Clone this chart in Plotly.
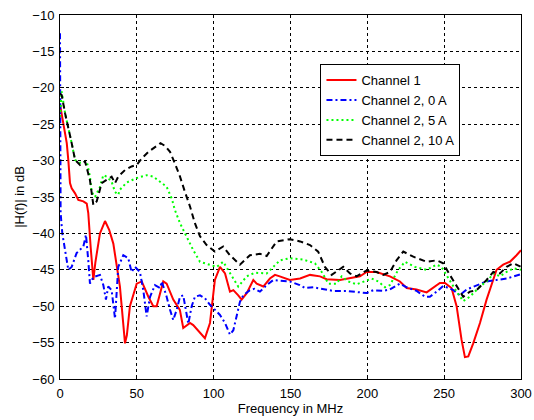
import plotly.graph_objects as go

# Channel 1
f_ch1 = [0, 2.1, 4.4, 5.4, 6.5, 7.6, 9.8, 11.9, 15.2, 17.4,
         18.4, 20, 21.7, 23, 26, 29.3, 32, 34.7, 39, 42.3,
         43.5, 45.5, 49.9, 53.2, 57.5, 60.7, 62.9, 67.2, 69.4, 73.7,
         78, 80.2, 84.6, 86.7, 91, 94.3, 97.6, 100.8, 104.1, 107.4,
         110.6, 112.8, 116, 118.2, 121.5, 125.8, 128, 132.3, 136.6, 139.9,
         143, 149.6, 156.2, 162.7, 169.2, 173.5, 182.2, 188.7, 195.2, 199.5,
         206, 214.7, 221.2, 225.6, 232, 238.6, 242.9, 247.2, 250.5, 254.8,
         258.1, 261.3, 263.5, 265.7, 268.9, 273.3, 277.6, 282, 284.1, 288.4,
         292.8, 297.1, 300]
h_ch1 = [-22.3, -24.9, -27.6, -29.9, -33.1, -33.8, -34.5, -35.4, -35.6, -35.9,
         -37.2, -42, -46.4, -44, -40, -38.3, -39.5, -41.4, -47.3, -55.1,
         -54, -50, -46.9, -46.6, -48.7, -50, -50, -46.6, -46.9, -49.1,
         -50.5, -53, -52.3, -52.6, -53.7, -54.4, -52.3, -46.4, -44.6, -45.5,
         -48, -47.8, -48.5, -49.1, -48.2, -46.4, -46.9, -47.3, -46.2, -45.7,
         -45.9, -46.4, -46.2, -45.7, -45.9, -46.3, -46.4, -46.2, -45.9, -45.3,
         -45.3, -45.9, -46.6, -47.5, -47.7, -48.1, -47.4, -46.8, -46.8, -47.5,
         -50, -54.6, -57, -56.9, -55.1, -52.3, -49.1, -46.4, -45, -44.3,
         -43.9, -43, -42.3]

# Channel 2, 0 A
f_ch2_0a = [0, 0.2, 0.4, 1.5, 3.3, 5.4, 7.6, 10.8, 15.2, 16.9,
            18.4, 19.5, 21.7, 26, 28.2, 29.9, 31.4, 33.6, 35.8, 37.9,
            41.2, 44.4, 46.6, 48.8, 52, 54.2, 56.4, 58.6, 61.8, 65.1,
            66.2, 69.4, 71.6, 73.7, 75.9, 78.1, 80.2, 82.4, 83.5, 85.7,
            87.8, 91.1, 94.3, 97.6, 100.8, 104.1, 107.4, 110.6, 112.8, 115,
            117.1, 119.3, 123.6, 126.5, 130.1, 134.5, 138.8, 143.1, 149.6, 156,
            159.4, 164.8, 171.3, 177.8, 186.5, 190.8, 195.2, 199.5, 203.9, 210.3,
            214.7, 221.2, 225.6, 232.1, 237.5, 240.7, 245.1, 249.4, 256, 260.2,
            264.6, 271.1, 277.6, 284.1, 290.6, 300]
h_ch2_0a = [-12.5, -25, -37.2, -40, -42.3, -45, -44.6, -42.7, -41.8, -40.2,
            -43.7, -46.9, -46, -45.7, -47.1, -49.1, -47.3, -47.8, -51.7, -44.6,
            -43, -43.4, -45.3, -44.6, -45.3, -47.8, -51.4, -48.7, -47.1, -47.5,
            -46.6, -48.7, -50.5, -51.9, -50.5, -48.7, -48.5, -51, -52.4, -50,
            -48.7, -48.5, -48.9, -49.8, -50.5, -51.2, -52.3, -53.9, -53.3, -51.4,
            -49.4, -48.5, -47.8, -47.6, -48, -47.1, -46.4, -46.5, -46.6, -47.1,
            -47.5, -47.4, -47.7, -47.9, -47.9, -48, -48, -48.2, -47.8, -47.9,
            -47.7, -46.9, -47.4, -47.9, -48.7, -48.7, -48, -47.2, -47.8, -48.5,
            -47.7, -47.2, -46.6, -46.4, -46.2, -45.6]

# Channel 2, 5 A
f_ch2_5a = [0, 1.1, 3.3, 5.4, 7.6, 9.8, 13, 17.4, 19.5, 20.6,
            22.8, 26, 28.2, 30.4, 33.6, 35.8, 37.9, 39, 43.4, 49.9,
            56.4, 60.7, 65.1, 69.4, 72.7, 74.8, 78.1, 81.3, 84.6, 86.7,
            91.1, 97.6, 102, 106.2, 111.7, 116, 121.5, 126.9, 134.5, 138.8,
            143.1, 149.6, 158.3, 165.9, 170.3, 174.7, 180, 183.3, 187.6, 193,
            198.4, 202.8, 207.1, 211.5, 214.7, 220.1, 224.5, 231, 238.6, 245.1,
            248.3, 252.7, 258.1, 262.4, 266.7, 273.3, 278.7, 282, 286.3, 290.6,
            295, 300]
h_ch2_5a = [-24, -20.5, -23.5, -25.3, -27.6, -29.9, -30.3, -30.1, -32.2, -34.3,
            -35, -33.6, -32, -32.2, -32.9, -34.3, -34.7, -34, -33, -32.4,
            -32, -32.2, -32.9, -33.6, -35.2, -36.8, -38.6, -40, -41.4, -42.3,
            -43.9, -44.3, -44.6, -43.9, -45.9, -47.3, -45.9, -45.4, -45.5, -44.6,
            -43.7, -43.4, -43.6, -44.1, -45.3, -46.9, -46.9, -45.9, -46.6, -47,
            -46.6, -46.2, -46.6, -47.4, -47.1, -45, -43.9, -44.6, -45, -44.3,
            -44.6, -46.2, -48, -49.3, -48.7, -47.3, -46.4, -45.5, -45.9, -45.3,
            -44.8, -45]

# Channel 2, 10 A
f_ch2_10a = [0, 1.1, 3.3, 5.4, 7.6, 9.8, 13, 16.3, 19.5, 21.7,
             23.9, 27.1, 30.4, 33.6, 35.8, 37.9, 42.3, 46.6, 49.9, 53.2,
             57.5, 61.8, 65.4, 68.5, 71.6, 74.8, 78.1, 81.3, 84.6, 87.8,
             91.1, 95.4, 97.6, 100.8, 106.2, 110.6, 117.1, 123.6, 130.1, 134.5,
             141, 149.6, 156.2, 162.7, 168, 172.4, 176.8, 181.1, 184.3, 188.7,
             193, 199.5, 206, 210.3, 214.7, 219, 223.4, 229.9, 238.6, 245.1,
             249.4, 253.7, 258.1, 262.4, 266.7, 271.1, 277.6, 282, 286.3, 290.6,
             295, 300]
h_ch2_10a = [-20.8, -21, -23.5, -25.3, -27.6, -29.9, -30.6, -30.1, -32.7, -36.1,
             -35.6, -33.1, -32.7, -32.2, -33.1, -32.2, -31.3, -30.8, -30.6, -29.7,
             -28.8, -28.1, -27.6, -28, -28.8, -30.4, -32.2, -34.3, -36.3, -38.6,
             -40.4, -41.6, -42, -42.5, -41.8, -43, -44.3, -43, -42.8, -43.1,
             -41.1, -40.8, -41.1, -41.6, -42.5, -44.6, -45.7, -45, -44.6, -45.5,
             -45.9, -45.1, -45.3, -45.7, -45.3, -43.7, -42.5, -43.2, -43.9, -43.7,
             -44.1, -45.7, -47.3, -48.7, -48, -47.8, -46.4, -45.3, -45.5, -44.6,
             -44.1, -44.6]

x_ticks = [0, 50, 100, 150, 200, 250, 300]
y_ticks = [-60, -55, -50, -45, -40, -35, -30, -25, -20, -15, -10]

series = [
    ("Channel 1", f_ch1, h_ch1, "#ff0000", "solid"),
    ("Channel 2, 0 A", f_ch2_0a, h_ch2_0a, "#0000ff", "6px,3px,2px,3px"),
    ("Channel 2, 5 A", f_ch2_5a, h_ch2_5a, "#00ff00", "2px,3px"),
    ("Channel 2, 10 A", f_ch2_10a, h_ch2_10a, "#000000", "6px,4px"),
]

fig = go.Figure()
for name, fx, hy, color, dash in series:
    fig.add_trace(go.Scatter(
        x=fx, y=hy, mode="lines", name=name,
        line=dict(color=color, width=2, dash=dash),
    ))

family = "Liberation Sans, Arial, sans-serif"
tick_font = dict(family=family, size=13, color="#000000")
label_font = dict(family=family, size=13, color="#000000")

axis_common = dict(
    showgrid=True, gridcolor="#000000", gridwidth=1, griddash="3px,3px",
    showline=True, linecolor="#000000", linewidth=1, mirror=True,
    ticks="inside", ticklen=4, tickcolor="#000000",
    zeroline=False, tickfont=tick_font, automargin=False,
)

fig.update_layout(
    width=534, height=420,
    margin=dict(l=60, r=13, t=15, b=41),
    paper_bgcolor="#ffffff", plot_bgcolor="#ffffff",
    font=label_font,
    showlegend=True,
    legend=dict(
        x=0.565, y=0.865, xanchor="left", yanchor="top",
        bgcolor="#ffffff", bordercolor="#000000", borderwidth=1,
        font=label_font, tracegroupgap=0,
    ),
    xaxis=dict(range=[0, 300], tickvals=x_ticks, ticklabelstandoff=2,
               title=dict(text="Frequency in MHz", font=label_font, standoff=4),
               **axis_common),
    yaxis=dict(range=[-60, -10], tickvals=y_ticks, ticklabelstandoff=2,
               title=dict(text="|H(f)| in dB", font=label_font, standoff=4),
               **axis_common),
)

fig.write_html("out.html")
